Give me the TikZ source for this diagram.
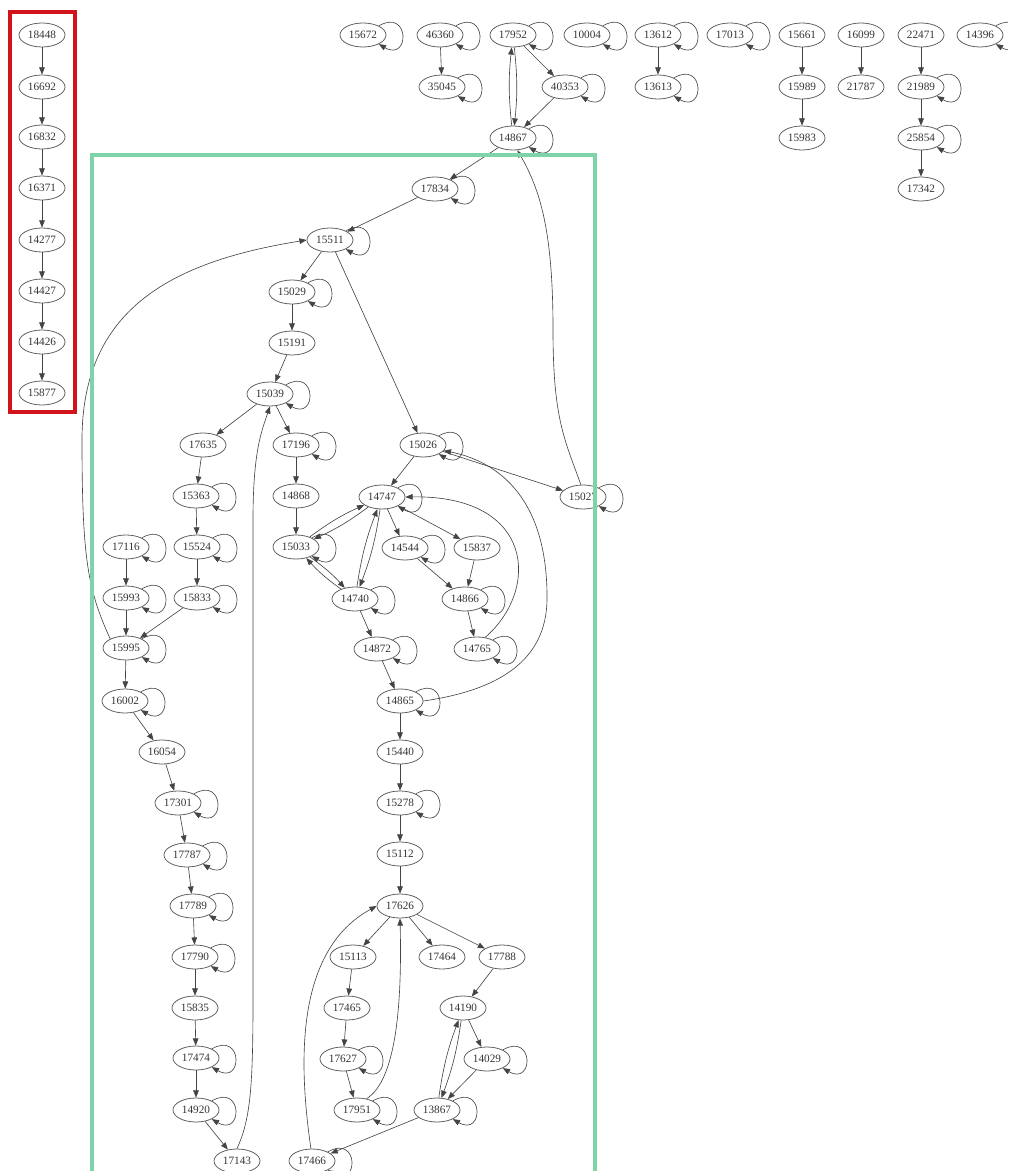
\documentclass[tikz,border=0pt]{standalone}
\usepackage{fontspec}
\setmainfont{Liberation Serif}
\usetikzlibrary{arrows.meta,shapes.geometric}
\definecolor{nodeline}{HTML}{5C5C5C}
\definecolor{edgeline}{HTML}{444444}
\definecolor{chainline}{HTML}{D1141B}
\definecolor{compline}{HTML}{7ED3A8}
\tikzset{
  every node/.style={font=\fontsize{8}{9}\selectfont, text=black!80},
  pid/.style={ellipse, draw=nodeline, line width=0.55pt,
    minimum width=11.5mm, minimum height=6mm, inner sep=0pt},
  flow/.style={-{Triangle[length=1.8mm,width=1.4mm]}, line width=0.45pt,
    draw=edgeline},
  selfloop/.style={out=30, in=-30, distance=9mm},
  pair/.style={bend left=6},
  frame/.style={draw=#1, line width=0.8mm},
}

\begin{document}
\begin{tikzpicture}[x=0.25mm, y=-0.25mm]
\clip (0,0) rectangle (1008,1171);

% ---- Chain on the left ------------------------------------------------------
\node[pid] (p18448) at (42,35)  {18448};
\node[pid] (p16692) at (42,87)  {16692};
\node[pid] (p16832) at (42,137) {16832};
\node[pid] (p16371) at (42,188) {16371};
\node[pid] (p14277) at (42,240) {14277};
\node[pid] (p14427) at (42,291) {14427};
\node[pid] (p14426) at (42,342) {14426};
\node[pid] (p15877) at (42,393) {15877};
\foreach \a/\b in {p18448/p16692,p16692/p16832,p16832/p16371,p16371/p14277,
                   p14277/p14427,p14427/p14426,p14426/p15877}
  \draw[flow] (\a) -- (\b);

% ---- Small groups along the top --------------------------------------------
\node[pid] (p15672) at (363,35) {15672};
\node[pid] (p46360) at (440,35) {46360};
\node[pid] (p17952) at (513,35) {17952};
\node[pid] (p10004) at (587,35) {10004};
\node[pid] (p13612) at (658,35) {13612};
\node[pid] (p17013) at (730,35) {17013};
\node[pid] (p15661) at (802,35) {15661};
\node[pid] (p16099) at (861,35) {16099};
\node[pid] (p22471) at (921,35) {22471};
\node[pid] (p14396) at (980,35) {14396};
\node[pid] (p35045) at (442,87) {35045};
\node[pid] (p40353) at (565,87) {40353};
\node[pid] (p13613) at (658,87) {13613};
\node[pid] (p15989) at (802,87) {15989};
\node[pid] (p21787) at (861,87) {21787};
\node[pid] (p21989) at (921,87) {21989};
\node[pid] (p14867) at (513,138) {14867};
\node[pid] (p15983) at (802,138) {15983};
\node[pid] (p25854) at (921,138) {25854};
\node[pid] (p17342) at (921,189) {17342};
\foreach \a/\b in {p46360/p35045,p17952/p40353,p40353/p14867,p13612/p13613,
                   p15661/p15989,p15989/p15983,p16099/p21787,p22471/p21989,
                   p21989/p25854,p25854/p17342}
  \draw[flow] (\a) -- (\b);
\draw[flow] (p17952) to[pair] (p14867);
\draw[flow] (p14867) to[pair] (p17952);

% ---- Large component --------------------------------------------------------
\node[pid] (p17834) at (435,189)  {17834};
\node[pid] (p15511) at (330,240)  {15511};
\node[pid] (p15029) at (292,292)  {15029};
\node[pid] (p15191) at (292,343)  {15191};
\node[pid] (p15039) at (270,394)  {15039};
\node[pid] (p17635) at (203,445)  {17635};
\node[pid] (p17196) at (296,445)  {17196};
\node[pid] (p15026) at (423,445)  {15026};
\node[pid] (p15363) at (196,496)  {15363};
\node[pid] (p14868) at (296,496)  {14868};
\node[pid] (p14747) at (382,497)  {14747};
\node[pid] (p15027) at (583,497)  {15027};
\node[pid] (p17116) at (126,547)  {17116};
\node[pid] (p15524) at (197,547)  {15524};
\node[pid] (p15033) at (296,547)  {15033};
\node[pid] (p14544) at (405,548)  {14544};
\node[pid] (p15837) at (477,548)  {15837};
\node[pid] (p15993) at (126,598)  {15993};
\node[pid] (p15833) at (197,598)  {15833};
\node[pid] (p14740) at (355,599)  {14740};
\node[pid] (p14866) at (465,599)  {14866};
\node[pid] (p15995) at (126,648)  {15995};
\node[pid] (p14872) at (377,649)  {14872};
\node[pid] (p14765) at (477,649)  {14765};
\node[pid] (p16002) at (125,701)  {16002};
\node[pid] (p14865) at (400,701)  {14865};
\node[pid] (p16054) at (162,752)  {16054};
\node[pid] (p15440) at (400,752)  {15440};
\node[pid] (p17301) at (178,803)  {17301};
\node[pid] (p15278) at (400,803)  {15278};
\node[pid] (p17787) at (187,855)  {17787};
\node[pid] (p15112) at (400,854)  {15112};
\node[pid] (p17789) at (193,906)  {17789};
\node[pid] (p17626) at (400,906)  {17626};
\node[pid] (p17790) at (195,957)  {17790};
\node[pid] (p15113) at (353,957)  {15113};
\node[pid] (p17464) at (442,957)  {17464};
\node[pid] (p17788) at (502,957)  {17788};
\node[pid] (p15835) at (195,1008) {15835};
\node[pid] (p17465) at (347,1008) {17465};
\node[pid] (p14190) at (463,1008) {14190};
\node[pid] (p17474) at (196,1058) {17474};
\node[pid] (p17627) at (343,1059) {17627};
\node[pid] (p14029) at (487,1059) {14029};
\node[pid] (p14920) at (196,1110) {14920};
\node[pid] (p17951) at (357,1110) {17951};
\node[pid] (p13867) at (437,1110) {13867};
\node[pid] (p17143) at (237,1161) {17143};
\node[pid] (p17466) at (312,1161) {17466};

\foreach \a/\b in {p14867/p17834,p17834/p15511,p15511/p15029,p15511/p15026,
                   p15029/p15191,p15191/p15039,p15039/p17635,p15039/p17196,
                   p17635/p15363,p15363/p15524,p15524/p15833,p17116/p15993,
                   p15993/p15995,p15833/p15995,p15995/p16002,p16002/p16054,
                   p16054/p17301,p17301/p17787,p17787/p17789,p17789/p17790,
                   p17790/p15835,p15835/p17474,p17474/p14920,p14920/p17143,
                   p17196/p14868,p14868/p15033,p14747/p14544,p14747/p15837,
                   p14544/p14866,p15837/p14866,p14866/p14765,p14740/p14872,
                   p14872/p14865,p15026/p14747,p15026/p15027,p14865/p15440,
                   p15440/p15278,p15278/p15112,p15112/p17626,p17626/p15113,
                   p17626/p17464,p17626/p17788,p15113/p17465,p17465/p17627,
                   p17627/p17951,p17788/p14190,p14190/p14029,p14029/p13867,
                   p13867/p17466}
  \draw[flow] (\a) -- (\b);

% edges both ways
\foreach \a/\b in {p15033/p14747,p15033/p14740,p14740/p14747,p14190/p13867} {
  \draw[flow] (\a) to[pair] (\b);
  \draw[flow] (\b) to[pair] (\a);
}

% long curved edges
\draw[flow] (p15995.150) .. controls (88,590) and (82,560) .. (82,440)
  .. controls (82,310) and (170,262) .. (p15511.west);
\draw[flow] (p17143.north) .. controls (250,1120) and (253,1090) .. (253,1000)
  -- (253,520) .. controls (253,450) and (262,430) .. (p15039.south);
\draw[flow] (p15027.100) .. controls (565,440) and (553,420) .. (553,330)
  .. controls (553,230) and (540,190) .. (p14867.-70);
\draw[flow] (p14865.east) .. controls (500,690) and (546,660) .. (547,600)
  .. controls (548,500) and (500,462) .. (p15026.-15);
\draw[flow] (p14765.55) .. controls (540,590) and (535,495) .. (p14747.east);
\draw[flow] (p17951.50) .. controls (397,1080) and (402,1000) .. (p17626.south);
\draw[flow] (p17466.95) .. controls (298,1060) and (296,950) .. (p17626.west);

% ---- Self loops -------------------------------------------------------------
\foreach \n in {p15672,p46360,p35045,p17952,p40353,p14867,p10004,p13612,
                p13613,p17013,p21989,p25854,p14396,p17834,p15511,p15029,
                p15039,p17196,p15363,p15524,p15833,p17116,p15993,p15995,
                p16002,p17301,p17787,p17789,p17790,p17474,p14920,p15033,
                p14747,p14544,p14740,p14866,p14872,p14765,p14865,p15026,
                p15027,p15278,p17627,p17951,p14029,p13867,p17466}
  \draw[flow] (\n) to[selfloop] (\n);

% ---- Frames -----------------------------------------------------------------
\draw[frame=chainline] (10,12) rectangle (75,412);
\draw[frame=compline] (92,155) rectangle (595,1200);

\end{tikzpicture}
\end{document}
